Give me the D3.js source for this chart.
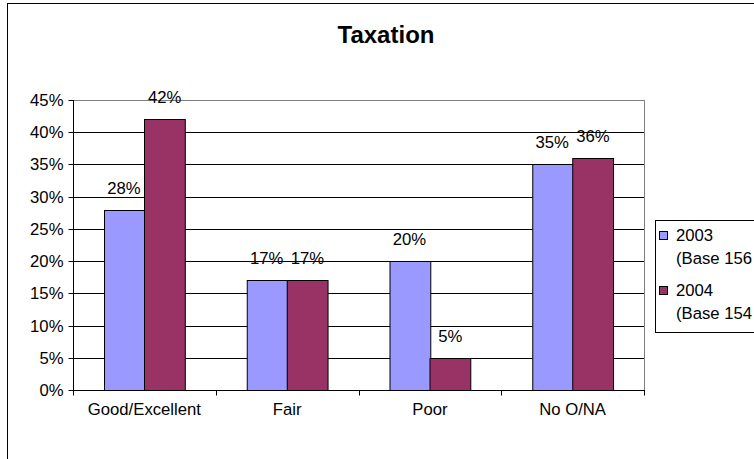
<!DOCTYPE html>
<html>
<head>
<meta charset="utf-8">
<script src="https://cdn.jsdelivr.net/npm/d3@7"></script>
<style>
  html, body { margin: 0; padding: 0; background: #fff; }
  svg { display: block; font-family: "Liberation Sans", Arial, sans-serif; }
</style>
</head>
<body>
<svg id="chart" width="754" height="459"></svg>
<script>
const categories = ["Good/Excellent", "Fair", "Poor", "No O/NA"];
const seriesNames = ["2003", "2004"];
const legendSub = ["(Base 156", "(Base 154"];
const values2003 = [0.28, 0.17, 0.20, 0.35];
const values2004 = [0.42, 0.17, 0.05, 0.36];
const yTicks = [0, 0.05, 0.10, 0.15, 0.20, 0.25, 0.30, 0.35, 0.40, 0.45];
const colors = ["#9999FF", "#993366"];

const svg = d3.select("#chart");
const W = 754, H = 459;
const plot = { left: 73, right: 644, top: 100, bottom: 390 };
const fs = 16.7;

// outer chart border (right and bottom off-canvas)
svg.append("rect").attr("x", 7.5).attr("y", 3.5).attr("width", 800).attr("height", 500)
  .attr("fill", "#fff").attr("stroke", "#000").attr("stroke-width", 1);

// title
svg.append("text").attr("x", 386).attr("y", 43).attr("text-anchor", "middle")
  .attr("font-size", 24).attr("font-weight", "bold").text("Taxation");

const x0 = d3.scaleBand().domain(categories).range([plot.left, plot.right]).paddingInner(0).paddingOuter(0);
const x1 = d3.scaleBand().domain(seriesNames).range([0, x0.bandwidth()]).paddingInner(0).paddingOuter(0.75);
const y = d3.scaleLinear().domain([0, 0.45]).range([plot.bottom, plot.top]);

// gridlines
svg.append("g").selectAll("line").data(yTicks.filter(t => t > 0 && t < 0.45)).join("line")
  .attr("x1", plot.left).attr("x2", plot.right)
  .attr("y1", d => Math.round(y(d)) + 0.5).attr("y2", d => Math.round(y(d)) + 0.5)
  .attr("stroke", "#000").attr("stroke-width", 1);

// plot area border (gray)
svg.append("rect").attr("x", plot.left + 0.5).attr("y", plot.top + 0.5)
  .attr("width", plot.right - plot.left).attr("height", plot.bottom - plot.top)
  .attr("fill", "none").attr("stroke", "#808080").attr("stroke-width", 1);

// bars
const data = categories.map((c, i) => ({ cat: c, vals: [values2003[i], values2004[i]] }));
const groups = svg.append("g").selectAll("g").data(data).join("g")
  .attr("transform", d => `translate(${x0(d.cat)},0)`);
groups.selectAll("rect").data(d => d.vals.map((v, j) => ({ s: seriesNames[j], v, j }))).join("rect")
  .attr("x", d => Math.round(x1(d.s)) + 0.5)
  .attr("y", d => Math.round(y(d.v)) + 0.5)
  .attr("width", x1.bandwidth())
  .attr("height", d => Math.round(y(0)) - Math.round(y(d.v)))
  .attr("fill", d => colors[d.j]).attr("stroke", "#000").attr("stroke-width", 1);

// data labels
groups.selectAll("text").data(d => d.vals.map((v, j) => ({ s: seriesNames[j], v, j }))).join("text")
  .attr("x", d => x1(d.s) + x1.bandwidth() / 2)
  .attr("y", d => y(d.v) - 16)
  .attr("text-anchor", "middle").attr("font-size", fs)
  .text(d => Math.round(d.v * 100) + "%");

// y axis
const yAxis = d3.axisLeft(y).tickValues(yTicks).tickSize(5).tickPadding(5)
  .tickFormat(d => Math.round(d * 100) + "%");
const gy = svg.append("g").attr("transform", `translate(${plot.left + 0.5},0)`).call(yAxis);
gy.select(".domain").attr("d", `M0,${plot.top}V${plot.bottom + 0.5}`).attr("stroke", "#000");
gy.selectAll(".tick line").attr("stroke", "#000");
gy.selectAll(".tick").attr("transform", d => `translate(0,${Math.round(y(d)) + 0.5})`);
gy.selectAll("text").attr("font-size", fs).attr("font-family", "Liberation Sans, Arial, sans-serif").attr("fill", "#000");

// x axis
const xAxis = d3.axisBottom(x0).tickSize(0).tickPadding(13);
const gx = svg.append("g").attr("transform", `translate(0,${plot.bottom + 0.5})`).call(xAxis);
gx.select(".domain").attr("d", `M${plot.left},0H${plot.right + 1}`).attr("stroke", "#000");
gx.selectAll("text").attr("font-size", fs).attr("font-family", "Liberation Sans, Arial, sans-serif").attr("fill", "#000");
// category boundary ticks
const bounds = categories.map(c => x0(c)).concat([plot.right]);
gx.selectAll(".bnd").data(bounds).join("line").attr("class", "bnd")
  .attr("x1", d => Math.round(d) + 0.5).attr("x2", d => Math.round(d) + 0.5)
  .attr("y1", 0).attr("y2", 5).attr("stroke", "#000");

// legend
const lg = svg.append("g");
lg.append("rect").attr("x", 655.5).attr("y", 220.5).attr("width", 120).attr("height", 112)
  .attr("fill", "#fff").attr("stroke", "#000");
seriesNames.forEach((s, i) => {
  const top = 231 + i * 55;
  lg.append("rect").attr("x", 659.5).attr("y", top + 0.5).attr("width", 8).attr("height", 8)
    .attr("fill", colors[i]).attr("stroke", "#000");
  lg.append("text").attr("x", 676).attr("y", top + 10).attr("font-size", fs).text(s);
  lg.append("text").attr("x", 676).attr("y", top + 33).attr("font-size", fs).text(legendSub[i]);
});
</script>
</body>
</html>
